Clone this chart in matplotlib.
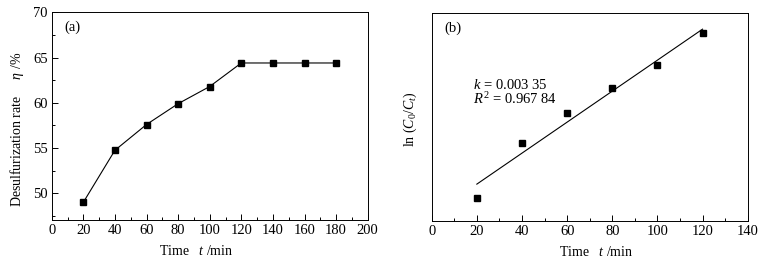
import numpy as np
import matplotlib
matplotlib.use('Agg')
import matplotlib.pyplot as plt
from matplotlib.ticker import MultipleLocator

plt.rcParams['font.family'] = ['Liberation Serif', 'DejaVu Serif']
plt.rcParams['mathtext.fontset'] = 'custom'
plt.rcParams['mathtext.rm'] = 'Liberation Serif'
plt.rcParams['mathtext.it'] = 'Liberation Serif:italic'
plt.rcParams['font.size'] = 10.5

# (a) desulfurization rate vs time
time_a = [20, 40, 60, 80, 100, 120, 140, 160, 180]
eta = [49.0, 54.75, 57.6, 59.9, 61.8, 64.4, 64.4, 64.4, 64.4]

# (b) ln(C0/Ct) vs time
time_b = [20, 40, 60, 80, 100, 120]
ln_ratio = [0.0485, 0.168, 0.234, 0.288, 0.337, 0.406]

fig = plt.figure(figsize=(7.66, 2.63), dpi=100)
W, H = 766, 263
ax1 = fig.add_axes([51.7 / W, 1 - 220 / H, 316 / W, 207.7 / H])
ax2 = fig.add_axes([431.7 / W, 1 - 220.7 / H, 316 / W, 207.4 / H])

for ax in (ax1, ax2):
    ax.tick_params(which='both', direction='in', top=False, right=False, width=0.7)
    ax.tick_params(which='major', length=4, pad=3)
    ax.tick_params(which='minor', length=2.5)
    for s in ax.spines.values():
        s.set_linewidth(0.7)

lab = 10

# panel a
ax1.plot(time_a, eta, color='black', lw=0.8, marker='s', ms=4.3)
ax1.set_xlim(0, 200)
ax1.set_ylim(47.05, 70)
ax1.xaxis.set_major_locator(MultipleLocator(20))
ax1.xaxis.set_minor_locator(MultipleLocator(10))
ax1.yaxis.set_major_locator(MultipleLocator(5))
ax1.yaxis.set_minor_locator(MultipleLocator(2.5))
ax1.set_xlabel('Time   $\\it{t}$ /min', fontsize=lab)
ax1.xaxis.set_label_coords(0.457, -0.115)
ax1.set_ylabel('Desulfurization rate     $\\eta$ /%', fontsize=lab)
ax1.yaxis.set_label_coords(-0.08, 0.435)
ax1.text(0.04, 0.93, '(a)', transform=ax1.transAxes, va='center', ha='left')

# panel b
k, b = np.polyfit(time_b, ln_ratio, 1)
fit_x = np.array([time_b[0], time_b[-1]])
ax2.plot(fit_x, k * fit_x + b, color='black', lw=0.8)
ax2.plot(time_b, ln_ratio, ls='none', color='black', marker='s', ms=4.3)
ax2.set_xlim(0, 140)
ax2.set_ylim(0, 0.449)
ax2.xaxis.set_major_locator(MultipleLocator(20))
ax2.xaxis.set_minor_locator(MultipleLocator(10))
ax2.set_yticks([])
ax2.set_xlabel('Time   $\\it{t}$ /min', fontsize=lab)
ax2.xaxis.set_label_coords(0.519, -0.115)
ax2.set_ylabel('ln ($\\it{C}_0$/$\\it{C}_t$)', fontsize=lab)
ax2.yaxis.set_label_coords(-0.04, 0.49)
ax2.text(0.04, 0.93, '(b)', transform=ax2.transAxes, va='center', ha='left')
ax2.text(0.13, 0.655, '$\\it{k}$ = 0.003 35', transform=ax2.transAxes, va='center', ha='left')
ax2.text(0.13, 0.585, '$\\it{R}^2$ = 0.967 84', transform=ax2.transAxes, va='center', ha='left')

fig.savefig('out.png', dpi=100)
